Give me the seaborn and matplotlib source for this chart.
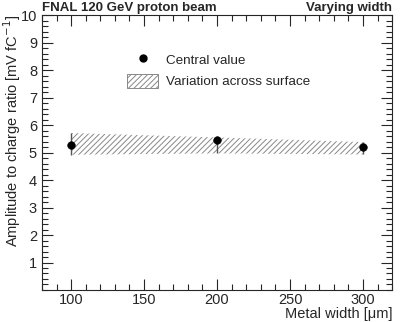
import matplotlib
matplotlib.use("Agg")
import matplotlib.pyplot as plt
import seaborn as sns
import pandas as pd
from matplotlib.ticker import MultipleLocator
from matplotlib.patches import Patch
from matplotlib.lines import Line2D

widths = [100, 200, 300]
central = [5.26, 5.44, 5.20]
upper = [5.71, 5.55, 5.38]
lower = [4.92, 4.97, 4.93]

sns.set_style("ticks")
plt.rcParams['font.family'] = ['Liberation Sans', 'DejaVu Sans']
plt.rcParams['hatch.color'] = '#888888'
plt.rcParams['hatch.linewidth'] = 0.7

df = pd.DataFrame({"width": widths, "central": central, "upper": upper, "lower": lower})

fig = plt.figure(figsize=(4.15, 3.22), dpi=100)
ax = fig.add_axes([0.101, 0.0994, 0.844, 0.8537])

ax.fill_between(df["width"], df["lower"], df["upper"], facecolor="white",
                hatch="//////", edgecolor="#888888", linewidth=0)
ax.vlines(df["width"], df["lower"], df["upper"], color="#555555", linewidth=1.0)
sns.scatterplot(data=df, x="width", y="central", color="black", s=30,
                edgecolor="black", ax=ax, zorder=5, legend=False)

ax.set_xlim(80, 320)
ax.set_ylim(0, 10)
ax.xaxis.set_major_locator(MultipleLocator(50))
ax.xaxis.set_minor_locator(MultipleLocator(10))
ax.yaxis.set_major_locator(MultipleLocator(1))
ax.yaxis.set_minor_locator(MultipleLocator(0.2))
ax.tick_params(which="both", direction="in", top=True, right=True, labelsize=10.5)
ax.tick_params(which="major", length=8, width=0.8)
ax.tick_params(which="minor", length=4, width=0.8)
ax.tick_params(axis="x", pad=2)
ax.set_yticks([1, 2, 3, 4, 5, 6, 7, 8, 9, 10])
ax.set_xticks([100, 150, 200, 250, 300])
for s in ax.spines.values():
    s.set_linewidth(0.8)

ax.set_xlabel("")
ax.set_ylabel("")
fig.text(0.945, 1 - 314 / 322, "Metal width [\u03bcm]", ha="right", va="center", fontsize=10.5)
fig.text(12 / 415, 0.953, "Amplitude to charge ratio [mV fC$^{-1}$]", ha="center", va="top",
         rotation=90, fontsize=10.5)

ax.text(0.0, 1.005, "FNAL 120 GeV proton beam", transform=ax.transAxes,
        ha="left", va="bottom", fontsize=9.5, fontweight="bold")
ax.text(1.0, 1.005, "Varying width", transform=ax.transAxes,
        ha="right", va="bottom", fontsize=9.5, fontweight="bold")

handles = [
    Line2D([], [], marker="o", color="black", linestyle="none", markersize=5),
    Patch(facecolor="white", hatch="//////", edgecolor="#888888", linewidth=0.7),
]
labels = ["Central value", "Variation across surface"]
ax.legend(handles, labels, loc="upper left", bbox_to_anchor=(0.209, 0.91),
          frameon=False, fontsize=9.7, handlelength=2.3, handleheight=1.3,
          labelspacing=0.5, handletextpad=0.6)

fig.savefig("out.png", dpi=100)
